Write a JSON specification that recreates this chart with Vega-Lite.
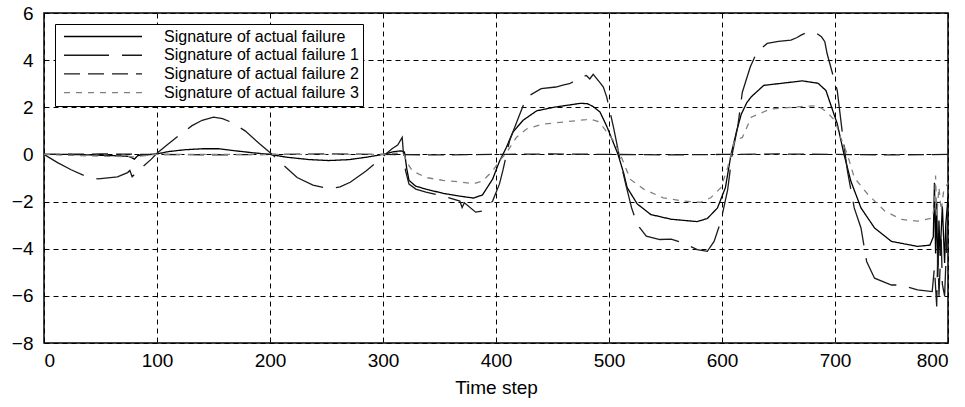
{
  "$schema": "https://vega.github.io/schema/vega-lite/v6.json",
  "width": 904,
  "height": 330,
  "autosize": {"type": "none"},
  "padding": {"left": 44, "top": 13, "right": 17, "bottom": 64},
  "background": "white",
  "config": {
    "font": "Liberation Sans",
    "view": {"stroke": "black", "strokeWidth": 1.5},
    "axis": {
      "grid": true,
      "gridColor": "black",
      "gridDash": [5, 4],
      "gridWidth": 1,
      "gridOpacity": 1,
      "domain": false,
      "ticks": false,
      "labelColor": "black",
      "labelFontSize": 19,
      "labelFont": "Liberation Sans",
      "titleFont": "Liberation Sans",
      "titleFontSize": 19,
      "titleFontWeight": "normal",
      "titleColor": "black"
    }
  },
  "data": {
    "values": [
      {"t": 0, "v": 0, "s": "Signature of actual failure"},
      {"t": 20, "v": 0.0, "s": "Signature of actual failure"},
      {"t": 40, "v": -0.02, "s": "Signature of actual failure"},
      {"t": 60, "v": -0.05, "s": "Signature of actual failure"},
      {"t": 75, "v": -0.08, "s": "Signature of actual failure"},
      {"t": 80, "v": -0.2, "s": "Signature of actual failure"},
      {"t": 83, "v": -0.05, "s": "Signature of actual failure"},
      {"t": 90, "v": -0.02, "s": "Signature of actual failure"},
      {"t": 100, "v": 0.02, "s": "Signature of actual failure"},
      {"t": 110, "v": 0.12, "s": "Signature of actual failure"},
      {"t": 125, "v": 0.2, "s": "Signature of actual failure"},
      {"t": 140, "v": 0.24, "s": "Signature of actual failure"},
      {"t": 155, "v": 0.24, "s": "Signature of actual failure"},
      {"t": 170, "v": 0.15, "s": "Signature of actual failure"},
      {"t": 185, "v": 0.07, "s": "Signature of actual failure"},
      {"t": 200, "v": 0.0, "s": "Signature of actual failure"},
      {"t": 215, "v": -0.12, "s": "Signature of actual failure"},
      {"t": 235, "v": -0.22, "s": "Signature of actual failure"},
      {"t": 252, "v": -0.26, "s": "Signature of actual failure"},
      {"t": 270, "v": -0.22, "s": "Signature of actual failure"},
      {"t": 285, "v": -0.12, "s": "Signature of actual failure"},
      {"t": 300, "v": 0.0, "s": "Signature of actual failure"},
      {"t": 310, "v": 0.12, "s": "Signature of actual failure"},
      {"t": 316, "v": 0.15, "s": "Signature of actual failure"},
      {"t": 319, "v": 0.1, "s": "Signature of actual failure"},
      {"t": 321, "v": -0.6, "s": "Signature of actual failure"},
      {"t": 323, "v": -1.1, "s": "Signature of actual failure"},
      {"t": 329, "v": -1.35, "s": "Signature of actual failure"},
      {"t": 338, "v": -1.47, "s": "Signature of actual failure"},
      {"t": 353, "v": -1.65, "s": "Signature of actual failure"},
      {"t": 368, "v": -1.77, "s": "Signature of actual failure"},
      {"t": 380, "v": -1.85, "s": "Signature of actual failure"},
      {"t": 388, "v": -1.72, "s": "Signature of actual failure"},
      {"t": 397, "v": -1.05, "s": "Signature of actual failure"},
      {"t": 403, "v": -0.3, "s": "Signature of actual failure"},
      {"t": 409, "v": 0.28, "s": "Signature of actual failure"},
      {"t": 415, "v": 0.95, "s": "Signature of actual failure"},
      {"t": 424, "v": 1.45, "s": "Signature of actual failure"},
      {"t": 436, "v": 1.85, "s": "Signature of actual failure"},
      {"t": 451, "v": 2.0, "s": "Signature of actual failure"},
      {"t": 468, "v": 2.12, "s": "Signature of actual failure"},
      {"t": 475, "v": 2.17, "s": "Signature of actual failure"},
      {"t": 481, "v": 2.15, "s": "Signature of actual failure"},
      {"t": 486, "v": 2.03, "s": "Signature of actual failure"},
      {"t": 492, "v": 1.8, "s": "Signature of actual failure"},
      {"t": 498, "v": 1.2, "s": "Signature of actual failure"},
      {"t": 503, "v": 0.6, "s": "Signature of actual failure"},
      {"t": 508, "v": 0.0, "s": "Signature of actual failure"},
      {"t": 513, "v": -0.8, "s": "Signature of actual failure"},
      {"t": 516, "v": -1.4, "s": "Signature of actual failure"},
      {"t": 525, "v": -2.1, "s": "Signature of actual failure"},
      {"t": 537, "v": -2.55, "s": "Signature of actual failure"},
      {"t": 555, "v": -2.75, "s": "Signature of actual failure"},
      {"t": 578, "v": -2.85, "s": "Signature of actual failure"},
      {"t": 587, "v": -2.72, "s": "Signature of actual failure"},
      {"t": 596, "v": -2.27, "s": "Signature of actual failure"},
      {"t": 603, "v": -1.41, "s": "Signature of actual failure"},
      {"t": 608, "v": 0.0, "s": "Signature of actual failure"},
      {"t": 613, "v": 1.0, "s": "Signature of actual failure"},
      {"t": 617, "v": 1.7, "s": "Signature of actual failure"},
      {"t": 622, "v": 2.2, "s": "Signature of actual failure"},
      {"t": 626, "v": 2.45, "s": "Signature of actual failure"},
      {"t": 637, "v": 2.93, "s": "Signature of actual failure"},
      {"t": 655, "v": 3.03, "s": "Signature of actual failure"},
      {"t": 671, "v": 3.12, "s": "Signature of actual failure"},
      {"t": 685, "v": 3.02, "s": "Signature of actual failure"},
      {"t": 692, "v": 2.71, "s": "Signature of actual failure"},
      {"t": 697, "v": 2.0, "s": "Signature of actual failure"},
      {"t": 702, "v": 1.3, "s": "Signature of actual failure"},
      {"t": 708, "v": 0.0, "s": "Signature of actual failure"},
      {"t": 714, "v": -1.13, "s": "Signature of actual failure"},
      {"t": 723, "v": -2.27, "s": "Signature of actual failure"},
      {"t": 735, "v": -3.12, "s": "Signature of actual failure"},
      {"t": 750, "v": -3.69, "s": "Signature of actual failure"},
      {"t": 773, "v": -3.9, "s": "Signature of actual failure"},
      {"t": 784, "v": -3.85, "s": "Signature of actual failure"},
      {"t": 787, "v": -3.5, "s": "Signature of actual failure"},
      {"t": 788, "v": -1.2, "s": "Signature of actual failure"},
      {"t": 789, "v": -4.2, "s": "Signature of actual failure"},
      {"t": 790, "v": -2.0, "s": "Signature of actual failure"},
      {"t": 791, "v": -5.2, "s": "Signature of actual failure"},
      {"t": 792, "v": -2.8, "s": "Signature of actual failure"},
      {"t": 793, "v": -4.3, "s": "Signature of actual failure"},
      {"t": 795, "v": -2.2, "s": "Signature of actual failure"},
      {"t": 797, "v": -4.6, "s": "Signature of actual failure"},
      {"t": 798, "v": -3.0, "s": "Signature of actual failure"},
      {"t": 800, "v": -1.8, "s": "Signature of actual failure"},

      {"t": 0, "v": 0, "s": "Signature of actual failure 1"},
      {"t": 12, "v": -0.35, "s": "Signature of actual failure 1"},
      {"t": 24, "v": -0.65, "s": "Signature of actual failure 1"},
      {"t": 36, "v": -0.91, "s": "Signature of actual failure 1"},
      {"t": 48, "v": -1.04, "s": "Signature of actual failure 1"},
      {"t": 65, "v": -0.95, "s": "Signature of actual failure 1"},
      {"t": 74, "v": -0.77, "s": "Signature of actual failure 1"},
      {"t": 76, "v": -0.68, "s": "Signature of actual failure 1"},
      {"t": 78, "v": -0.95, "s": "Signature of actual failure 1"},
      {"t": 83, "v": -0.7, "s": "Signature of actual failure 1"},
      {"t": 95, "v": -0.2, "s": "Signature of actual failure 1"},
      {"t": 100, "v": 0.05, "s": "Signature of actual failure 1"},
      {"t": 108, "v": 0.37, "s": "Signature of actual failure 1"},
      {"t": 119, "v": 0.79, "s": "Signature of actual failure 1"},
      {"t": 131, "v": 1.22, "s": "Signature of actual failure 1"},
      {"t": 140, "v": 1.45, "s": "Signature of actual failure 1"},
      {"t": 150, "v": 1.58, "s": "Signature of actual failure 1"},
      {"t": 158, "v": 1.52, "s": "Signature of actual failure 1"},
      {"t": 166, "v": 1.36, "s": "Signature of actual failure 1"},
      {"t": 178, "v": 1.0, "s": "Signature of actual failure 1"},
      {"t": 191, "v": 0.44, "s": "Signature of actual failure 1"},
      {"t": 202, "v": 0.0, "s": "Signature of actual failure 1"},
      {"t": 213, "v": -0.5, "s": "Signature of actual failure 1"},
      {"t": 224, "v": -0.98, "s": "Signature of actual failure 1"},
      {"t": 238, "v": -1.3, "s": "Signature of actual failure 1"},
      {"t": 252, "v": -1.45, "s": "Signature of actual failure 1"},
      {"t": 262, "v": -1.38, "s": "Signature of actual failure 1"},
      {"t": 271, "v": -1.18, "s": "Signature of actual failure 1"},
      {"t": 285, "v": -0.7, "s": "Signature of actual failure 1"},
      {"t": 295, "v": -0.3, "s": "Signature of actual failure 1"},
      {"t": 302, "v": 0.0, "s": "Signature of actual failure 1"},
      {"t": 308, "v": 0.24, "s": "Signature of actual failure 1"},
      {"t": 313, "v": 0.4, "s": "Signature of actual failure 1"},
      {"t": 317, "v": 0.72, "s": "Signature of actual failure 1"},
      {"t": 318, "v": 0.1, "s": "Signature of actual failure 1"},
      {"t": 320, "v": -0.7, "s": "Signature of actual failure 1"},
      {"t": 323, "v": -1.26, "s": "Signature of actual failure 1"},
      {"t": 329, "v": -1.47, "s": "Signature of actual failure 1"},
      {"t": 338, "v": -1.6, "s": "Signature of actual failure 1"},
      {"t": 353, "v": -1.77, "s": "Signature of actual failure 1"},
      {"t": 368, "v": -1.98, "s": "Signature of actual failure 1"},
      {"t": 370, "v": -2.25, "s": "Signature of actual failure 1"},
      {"t": 372, "v": -2.05, "s": "Signature of actual failure 1"},
      {"t": 382, "v": -2.45, "s": "Signature of actual failure 1"},
      {"t": 388, "v": -2.4, "s": "Signature of actual failure 1"},
      {"t": 397, "v": -1.98, "s": "Signature of actual failure 1"},
      {"t": 403, "v": -1.26, "s": "Signature of actual failure 1"},
      {"t": 406, "v": -0.7, "s": "Signature of actual failure 1"},
      {"t": 412, "v": 0.58, "s": "Signature of actual failure 1"},
      {"t": 420, "v": 1.58, "s": "Signature of actual failure 1"},
      {"t": 427, "v": 2.43, "s": "Signature of actual failure 1"},
      {"t": 440, "v": 2.79, "s": "Signature of actual failure 1"},
      {"t": 453, "v": 2.86, "s": "Signature of actual failure 1"},
      {"t": 460, "v": 2.95, "s": "Signature of actual failure 1"},
      {"t": 465, "v": 3.0, "s": "Signature of actual failure 1"},
      {"t": 475, "v": 3.25, "s": "Signature of actual failure 1"},
      {"t": 480, "v": 3.35, "s": "Signature of actual failure 1"},
      {"t": 483, "v": 3.2, "s": "Signature of actual failure 1"},
      {"t": 486, "v": 3.4, "s": "Signature of actual failure 1"},
      {"t": 492, "v": 3.05, "s": "Signature of actual failure 1"},
      {"t": 495, "v": 2.86, "s": "Signature of actual failure 1"},
      {"t": 498, "v": 2.43, "s": "Signature of actual failure 1"},
      {"t": 504, "v": 1.15, "s": "Signature of actual failure 1"},
      {"t": 510, "v": -0.27, "s": "Signature of actual failure 1"},
      {"t": 515, "v": -1.3, "s": "Signature of actual failure 1"},
      {"t": 520, "v": -2.27, "s": "Signature of actual failure 1"},
      {"t": 525, "v": -2.97, "s": "Signature of actual failure 1"},
      {"t": 533, "v": -3.47, "s": "Signature of actual failure 1"},
      {"t": 545, "v": -3.61, "s": "Signature of actual failure 1"},
      {"t": 555, "v": -3.59, "s": "Signature of actual failure 1"},
      {"t": 566, "v": -3.76, "s": "Signature of actual failure 1"},
      {"t": 578, "v": -4.04, "s": "Signature of actual failure 1"},
      {"t": 587, "v": -4.11, "s": "Signature of actual failure 1"},
      {"t": 593, "v": -3.69, "s": "Signature of actual failure 1"},
      {"t": 599, "v": -2.83, "s": "Signature of actual failure 1"},
      {"t": 605, "v": -1.5, "s": "Signature of actual failure 1"},
      {"t": 609, "v": 0.0, "s": "Signature of actual failure 1"},
      {"t": 614, "v": 1.2, "s": "Signature of actual failure 1"},
      {"t": 618, "v": 2.64, "s": "Signature of actual failure 1"},
      {"t": 625, "v": 3.71, "s": "Signature of actual failure 1"},
      {"t": 631, "v": 4.35, "s": "Signature of actual failure 1"},
      {"t": 640, "v": 4.71, "s": "Signature of actual failure 1"},
      {"t": 650, "v": 4.8, "s": "Signature of actual failure 1"},
      {"t": 661, "v": 4.85, "s": "Signature of actual failure 1"},
      {"t": 666, "v": 4.95, "s": "Signature of actual failure 1"},
      {"t": 670, "v": 5.06, "s": "Signature of actual failure 1"},
      {"t": 676, "v": 5.2, "s": "Signature of actual failure 1"},
      {"t": 684, "v": 5.13, "s": "Signature of actual failure 1"},
      {"t": 688, "v": 4.99, "s": "Signature of actual failure 1"},
      {"t": 691, "v": 4.78, "s": "Signature of actual failure 1"},
      {"t": 693, "v": 4.28, "s": "Signature of actual failure 1"},
      {"t": 697, "v": 3.57, "s": "Signature of actual failure 1"},
      {"t": 702, "v": 2.71, "s": "Signature of actual failure 1"},
      {"t": 707, "v": 0.72, "s": "Signature of actual failure 1"},
      {"t": 711, "v": -0.7, "s": "Signature of actual failure 1"},
      {"t": 717, "v": -2.27, "s": "Signature of actual failure 1"},
      {"t": 723, "v": -3.12, "s": "Signature of actual failure 1"},
      {"t": 728, "v": -4.54, "s": "Signature of actual failure 1"},
      {"t": 735, "v": -5.25, "s": "Signature of actual failure 1"},
      {"t": 750, "v": -5.54, "s": "Signature of actual failure 1"},
      {"t": 759, "v": -5.54, "s": "Signature of actual failure 1"},
      {"t": 773, "v": -5.75, "s": "Signature of actual failure 1"},
      {"t": 786, "v": -5.82, "s": "Signature of actual failure 1"},
      {"t": 788, "v": -4.8, "s": "Signature of actual failure 1"},
      {"t": 790, "v": -6.45, "s": "Signature of actual failure 1"},
      {"t": 791, "v": -4.0, "s": "Signature of actual failure 1"},
      {"t": 792, "v": -6.0, "s": "Signature of actual failure 1"},
      {"t": 794, "v": -3.6, "s": "Signature of actual failure 1"},
      {"t": 795, "v": -5.5, "s": "Signature of actual failure 1"},
      {"t": 797, "v": -6.0, "s": "Signature of actual failure 1"},
      {"t": 799, "v": -3.5, "s": "Signature of actual failure 1"},
      {"t": 800, "v": -2.5, "s": "Signature of actual failure 1"},

      {"t": 0, "v": 0.0, "s": "Signature of actual failure 2"},
      {"t": 50, "v": 0.02, "s": "Signature of actual failure 2"},
      {"t": 100, "v": 0.0, "s": "Signature of actual failure 2"},
      {"t": 150, "v": -0.02, "s": "Signature of actual failure 2"},
      {"t": 200, "v": 0.0, "s": "Signature of actual failure 2"},
      {"t": 250, "v": 0.02, "s": "Signature of actual failure 2"},
      {"t": 300, "v": 0.0, "s": "Signature of actual failure 2"},
      {"t": 350, "v": -0.02, "s": "Signature of actual failure 2"},
      {"t": 400, "v": 0.0, "s": "Signature of actual failure 2"},
      {"t": 450, "v": 0.02, "s": "Signature of actual failure 2"},
      {"t": 500, "v": 0.0, "s": "Signature of actual failure 2"},
      {"t": 550, "v": -0.02, "s": "Signature of actual failure 2"},
      {"t": 600, "v": 0.0, "s": "Signature of actual failure 2"},
      {"t": 650, "v": 0.02, "s": "Signature of actual failure 2"},
      {"t": 700, "v": 0.0, "s": "Signature of actual failure 2"},
      {"t": 750, "v": -0.02, "s": "Signature of actual failure 2"},
      {"t": 800, "v": 0.0, "s": "Signature of actual failure 2"},

      {"t": 0, "v": 0, "s": "Signature of actual failure 3"},
      {"t": 30, "v": -0.05, "s": "Signature of actual failure 3"},
      {"t": 60, "v": -0.08, "s": "Signature of actual failure 3"},
      {"t": 80, "v": -0.1, "s": "Signature of actual failure 3"},
      {"t": 90, "v": -0.05, "s": "Signature of actual failure 3"},
      {"t": 100, "v": 0.0, "s": "Signature of actual failure 3"},
      {"t": 200, "v": 0.0, "s": "Signature of actual failure 3"},
      {"t": 300, "v": 0.0, "s": "Signature of actual failure 3"},
      {"t": 310, "v": 0.05, "s": "Signature of actual failure 3"},
      {"t": 318, "v": 0.05, "s": "Signature of actual failure 3"},
      {"t": 322, "v": -0.4, "s": "Signature of actual failure 3"},
      {"t": 326, "v": -0.7, "s": "Signature of actual failure 3"},
      {"t": 338, "v": -0.98, "s": "Signature of actual failure 3"},
      {"t": 353, "v": -1.1, "s": "Signature of actual failure 3"},
      {"t": 368, "v": -1.16, "s": "Signature of actual failure 3"},
      {"t": 380, "v": -1.25, "s": "Signature of actual failure 3"},
      {"t": 388, "v": -1.13, "s": "Signature of actual failure 3"},
      {"t": 397, "v": -0.7, "s": "Signature of actual failure 3"},
      {"t": 403, "v": -0.27, "s": "Signature of actual failure 3"},
      {"t": 409, "v": 0.05, "s": "Signature of actual failure 3"},
      {"t": 418, "v": 0.72, "s": "Signature of actual failure 3"},
      {"t": 427, "v": 1.08, "s": "Signature of actual failure 3"},
      {"t": 442, "v": 1.29, "s": "Signature of actual failure 3"},
      {"t": 457, "v": 1.36, "s": "Signature of actual failure 3"},
      {"t": 471, "v": 1.43, "s": "Signature of actual failure 3"},
      {"t": 480, "v": 1.48, "s": "Signature of actual failure 3"},
      {"t": 483, "v": 1.5, "s": "Signature of actual failure 3"},
      {"t": 490, "v": 1.4, "s": "Signature of actual failure 3"},
      {"t": 495, "v": 1.15, "s": "Signature of actual failure 3"},
      {"t": 504, "v": 0.58, "s": "Signature of actual failure 3"},
      {"t": 510, "v": 0.0, "s": "Signature of actual failure 3"},
      {"t": 515, "v": -0.6, "s": "Signature of actual failure 3"},
      {"t": 519, "v": -1.06, "s": "Signature of actual failure 3"},
      {"t": 531, "v": -1.48, "s": "Signature of actual failure 3"},
      {"t": 548, "v": -1.84, "s": "Signature of actual failure 3"},
      {"t": 566, "v": -1.98, "s": "Signature of actual failure 3"},
      {"t": 581, "v": -2.03, "s": "Signature of actual failure 3"},
      {"t": 590, "v": -1.84, "s": "Signature of actual failure 3"},
      {"t": 599, "v": -1.41, "s": "Signature of actual failure 3"},
      {"t": 605, "v": -0.56, "s": "Signature of actual failure 3"},
      {"t": 611, "v": 0.58, "s": "Signature of actual failure 3"},
      {"t": 618, "v": 0.72, "s": "Signature of actual failure 3"},
      {"t": 626, "v": 1.58, "s": "Signature of actual failure 3"},
      {"t": 643, "v": 1.93, "s": "Signature of actual failure 3"},
      {"t": 670, "v": 2.03, "s": "Signature of actual failure 3"},
      {"t": 685, "v": 2.07, "s": "Signature of actual failure 3"},
      {"t": 693, "v": 1.79, "s": "Signature of actual failure 3"},
      {"t": 700, "v": 1.43, "s": "Signature of actual failure 3"},
      {"t": 705, "v": 0.72, "s": "Signature of actual failure 3"},
      {"t": 711, "v": 0.0, "s": "Signature of actual failure 3"},
      {"t": 717, "v": -0.98, "s": "Signature of actual failure 3"},
      {"t": 729, "v": -1.69, "s": "Signature of actual failure 3"},
      {"t": 744, "v": -2.4, "s": "Signature of actual failure 3"},
      {"t": 759, "v": -2.76, "s": "Signature of actual failure 3"},
      {"t": 773, "v": -2.83, "s": "Signature of actual failure 3"},
      {"t": 786, "v": -2.7, "s": "Signature of actual failure 3"},
      {"t": 788, "v": -2.2, "s": "Signature of actual failure 3"},
      {"t": 789, "v": -0.9, "s": "Signature of actual failure 3"},
      {"t": 790, "v": -2.6, "s": "Signature of actual failure 3"},
      {"t": 792, "v": -1.4, "s": "Signature of actual failure 3"},
      {"t": 794, "v": -2.4, "s": "Signature of actual failure 3"},
      {"t": 796, "v": -1.6, "s": "Signature of actual failure 3"},
      {"t": 800, "v": -1.2, "s": "Signature of actual failure 3"}
    ]
  },
  "mark": {"type": "line", "strokeWidth": 1.3, "clip": true},
  "encoding": {
    "x": {
      "field": "t",
      "type": "quantitative",
      "title": "Time step",
      "scale": {"domain": [0, 800], "nice": false, "zero": false},
      "axis": {"values": [0, 100, 200, 300, 400, 500, 600, 700, 800], "labelPadding": 8, "titlePadding": 8, "format": "d"}
    },
    "y": {
      "field": "v",
      "type": "quantitative",
      "title": null,
      "scale": {"domain": [-8, 6], "nice": false, "zero": false},
      "axis": {"values": [-8, -6, -4, -2, 0, 2, 4, 6], "labelPadding": 11, "format": "d"}
    },
    "color": {
      "field": "s",
      "type": "nominal",
      "scale": {
        "domain": ["Signature of actual failure", "Signature of actual failure 1", "Signature of actual failure 2", "Signature of actual failure 3"],
        "range": ["#000000", "#1a1a1a", "#1a1a1a", "#808080"]
      },
      "legend": {
        "title": null,
        "orient": "top-left",
        "offset": 11,
        "fillColor": "white",
        "strokeColor": "black",
        "padding": 4,
        "symbolType": "stroke",
        "symbolSize": 6084,
        "symbolOffset": 4,
        "symbolStrokeWidth": 1.4,
        "clipHeight": 17,
        "rowPadding": 1.7,
        "labelFontSize": 16,
        "labelFont": "Liberation Sans",
        "labelColor": "black",
        "labelOffset": 21,
        "labelLimit": 400
      }
    },
    "strokeDash": {
      "field": "s",
      "type": "nominal",
      "scale": {
        "domain": ["Signature of actual failure", "Signature of actual failure 1", "Signature of actual failure 2", "Signature of actual failure 3"],
        "range": [[1, 0], [45, 13], [16, 8], [6, 6]]
      }
    }
  }
}
